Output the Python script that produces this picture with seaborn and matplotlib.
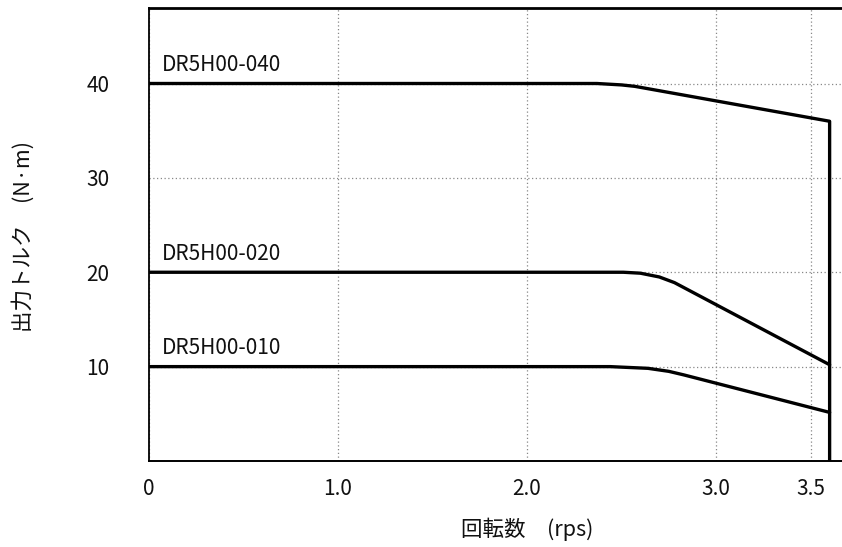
import matplotlib
matplotlib.use("Agg")
import matplotlib.pyplot as plt
import seaborn as sns
import pandas as pd

# ---- data ----
x_040 = [0.0, 2.37, 2.50, 2.57, 3.60, 3.60]
y_040 = [40.0, 40.0, 39.85, 39.7, 36.0, 0.0]
x_020 = [0.0, 2.51, 2.60, 2.70, 2.78, 3.60]
y_020 = [20.0, 20.0, 19.9, 19.5, 18.9, 10.2]
x_010 = [0.0, 2.44, 2.64, 2.75, 2.83, 3.60]
y_010 = [10.0, 10.0, 9.82, 9.5, 9.12, 5.15]
series_names = ["DR5H00-040", "DR5H00-020", "DR5H00-010"]
label_y = [40.0, 20.0, 10.0]
xtick_vals = [0, 1.0, 2.0, 3.0, 3.5]
xtick_labels = ["0", "1.0", "2.0", "3.0", "3.5"]
ytick_vals = [10, 20, 30, 40]
ytick_labels = ["10", "20", "30", "40"]
xlabel = "回転数\u3000(rps)"
ylabel = "出力トルク\u3000(N·m)"

sns.set_style("white")
plt.rcParams['font.family'] = ['Noto Sans CJK JP', 'DejaVu Sans']

fig = plt.figure(figsize=(8.42, 5.47), dpi=100)
W, H = 842, 547
left_px, right_px, bot_px, top_px = 148.5, 148.5 + 4 * 189.2, 461, 8
ax = fig.add_axes([left_px / W, (H - bot_px) / H, (right_px - left_px) / W, (bot_px - top_px) / H])

frames = []
for name, xs, ys in zip(series_names, [x_040, x_020, x_010], [y_040, y_020, y_010]):
    frames.append(pd.DataFrame({"x": xs, "y": ys, "series": name, "order": range(len(xs))}))
df = pd.concat(frames, ignore_index=True)

sns.lineplot(data=df, x="x", y="y", hue="series", units="series", estimator=None, sort=False,
             palette=["black"] * 3, linewidth=2.4, legend=False, ax=ax, zorder=3)

for name, yv in zip(series_names, label_y):
    ax.text(0.072, yv + 1.3, name, fontsize=15, va="baseline", ha="left", color="#111111")

ax.set_xlim(0, 4.0)
ax.set_ylim(0, 48)
ax.set_xticks(xtick_vals)
ax.set_xticklabels(xtick_labels)
ax.set_yticks(ytick_vals)
ax.set_yticklabels(ytick_labels)
ax.tick_params(axis="x", length=0, pad=12, labelsize=15, colors="#111111")
ax.tick_params(axis="y", length=0, pad=28, labelsize=15, colors="#111111")

ax.grid(True, linestyle=(0, (1, 2)), color="#888888", linewidth=0.9)
ax.set_axisbelow(True)

for side in ["right"]:
    ax.spines[side].set_visible(False)
ax.spines["top"].set_linewidth(2.0)
ax.spines["left"].set_linewidth(1.3)
ax.spines["bottom"].set_linewidth(1.4)
for side in ["top", "left", "bottom"]:
    ax.spines[side].set_color("black")

ax.set_xlabel(xlabel, fontsize=15.5, color="#111111")
ax.set_ylabel(ylabel, fontsize=15.5, color="#111111")
ax.xaxis.set_label_coords(0.5, (bot_px - 529) / (bot_px - top_px))
ax.xaxis.label.set_va("center")
ax.yaxis.set_label_coords((23 - left_px) / (right_px - left_px), 0.495)
ax.yaxis.label.set_va("center")
ax.yaxis.label.set_ha("center")

fig.savefig("out.png", dpi=100)
